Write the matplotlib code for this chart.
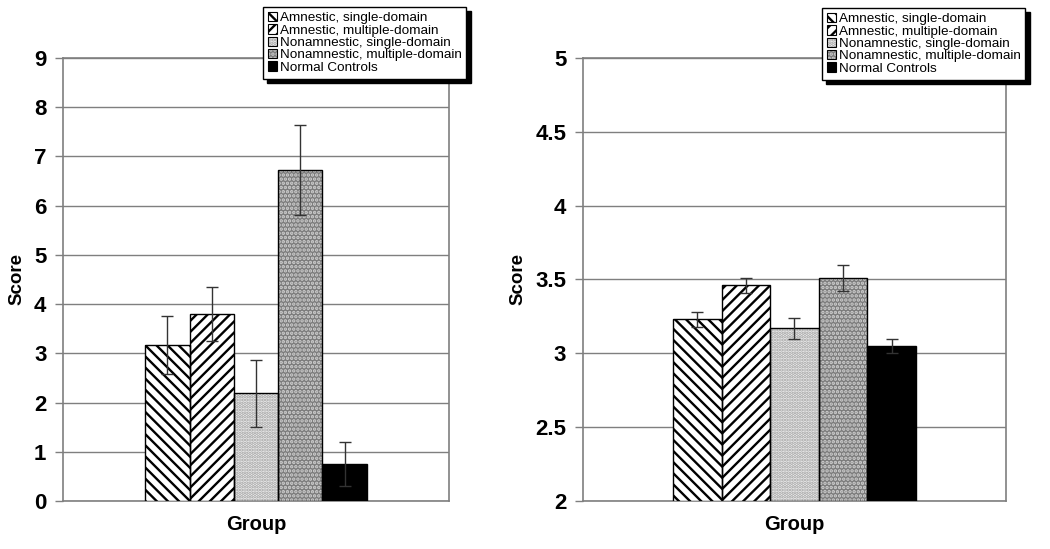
import matplotlib
matplotlib.use("Agg")
import matplotlib.pyplot as plt
from matplotlib.patches import Patch

plt.rcParams['font.family'] = ['Liberation Sans', 'DejaVu Sans']
plt.rcParams['hatch.linewidth'] = 1.7

# groups (legend order)
groups = ['Amnestic, single-domain', 'Amnestic, multiple-domain',
          'Nonamnestic, single-domain', 'Nonamnestic, multiple-domain',
          'Normal Controls']

# left panel
left_means = [3.17, 3.80, 2.19, 6.73, 0.75]
left_err = [0.58, 0.55, 0.68, 0.91, 0.44]
left_ticks = [0, 1, 2, 3, 4, 5, 6, 7, 8, 9]

# right panel
right_means = [3.23, 3.46, 3.17, 3.51, 3.05]
right_err = [0.05, 0.05, 0.07, 0.09, 0.045]
right_ticks = [2, 2.5, 3, 3.5, 4, 4.5, 5]
right_ticklabels = ['2', '2.5', '3', '3.5', '4', '4.5', '5']

# bar looks: face, hatch, hatch colour
styles = [
    ('white', '\\\\\\', 'black'),
    ('white', '///', 'black'),
    ('#efefef', '.....', '#a0a0a0'),
    ('#7c7c7c', '....', '#d0d0d0'),
    ('black', None, 'black'),
]
GRAY = '#7f7f7f'


def draw_panel(ax, means, err, ticks, ticklabels, ylim):
    handles = []
    for i, (m, e) in enumerate(zip(means, err)):
        face, hatch, hcol = styles[i]
        ax.bar(i, m - ylim[0], bottom=ylim[0], width=1.0, color=face,
               hatch=hatch, edgecolor=hcol, linewidth=0, zorder=3)
        ax.bar(i, m - ylim[0], bottom=ylim[0], width=1.0, fill=False,
               edgecolor='black', linewidth=1.0, zorder=4)
        ax.errorbar(i, m, yerr=e, fmt='none', ecolor='#333333', elinewidth=1,
                    capsize=4, capthick=1, zorder=5)
        hp = Patch(facecolor=face, hatch=hatch, edgecolor=hcol, linewidth=0)
        op = Patch(fill=False, edgecolor='black', linewidth=0.8)
        handles.append((hp, op))

    ax.set_ylim(*ylim)
    ax.set_xlim(2 - 4.36, 2 + 4.36)
    ax.set_yticks(ticks)
    ax.set_yticklabels(ticklabels, fontsize=16, fontweight='bold')
    ax.set_xticks([])
    ax.tick_params(axis='y', direction='out', length=6, color=GRAY, width=1, pad=6)
    ax.yaxis.grid(True, color=GRAY, linewidth=1, zorder=0)
    ax.set_axisbelow(True)
    for s in ax.spines.values():
        s.set_color(GRAY)
        s.set_linewidth(1.2)
    ax.set_xlabel('Group', fontsize=14.5, fontweight='bold', labelpad=10)
    ax.set_ylabel('Score', fontsize=13.5, fontweight='bold', labelpad=6)
    return handles


fig = plt.figure(figsize=(10.5, 5.49), dpi=100)
ax1 = fig.add_axes([0.060, 0.0874, 0.3676, 0.807])
ax2 = fig.add_axes([0.5552, 0.0874, 0.4029, 0.807])

h1 = draw_panel(ax1, left_means, left_err, left_ticks, [str(t) for t in left_ticks], (0, 9))
h2 = draw_panel(ax2, right_means, right_err, right_ticks, right_ticklabels, (2, 5))

leg_kw = dict(fontsize=9.7, frameon=True, fancybox=False, framealpha=1,
              edgecolor='black', handlelength=0.7, handleheight=0.7,
              handletextpad=0.2, labelspacing=0.0, borderpad=0.35,
              borderaxespad=0, shadow={'color': 'black', 'alpha': 1, 'ox': 3, 'oy': -3})
l1 = fig.legend(h1, groups, loc='upper left', bbox_to_anchor=(263 / 1050, 1 - 7 / 549), **leg_kw)
l2 = fig.legend(h2, groups, loc='upper left', bbox_to_anchor=(822 / 1050, 1 - 8 / 549), **leg_kw)
for l in (l1, l2):
    l.get_frame().set_linewidth(1.0)

fig.savefig('out.png', dpi=100)
